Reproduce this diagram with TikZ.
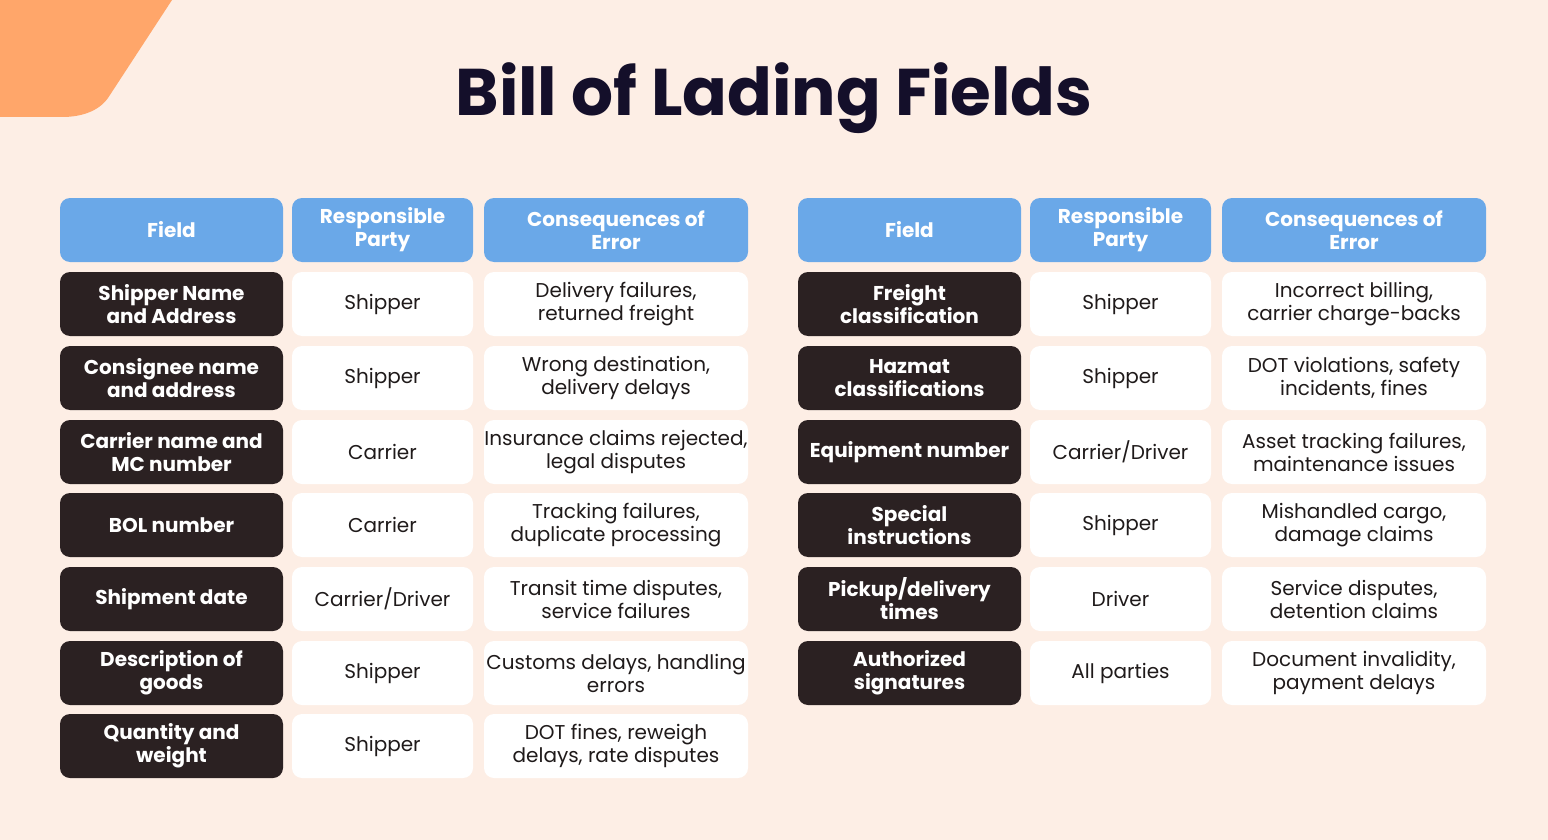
\documentclass[tikz,border=0pt]{standalone}
\usepackage{fontspec}
\setmainfont{Poppins}
\definecolor{bg}{HTML}{FDEEE5}
\definecolor{corner}{HTML}{FFA66A}
\definecolor{hdr}{HTML}{6AA8E8}
\definecolor{dark}{HTML}{2B2122}
\definecolor{txt}{HTML}{1F1A1A}
\definecolor{ttl}{HTML}{140F2A}
\begin{document}
\begin{tikzpicture}[x=0.5pt,y=-0.5pt,
  cell/.style={rounded corners=5pt,align=center,inner sep=0pt,font=\fontsize{10}{11.5}\selectfont},
  hcell/.style={cell,fill=hdr,text=white,font=\fontsize{10}{11.5}\selectfont\bfseries},
  fcell/.style={cell,fill=dark,text=white,font=\fontsize{10}{11.5}\selectfont\bfseries},
  wcell/.style={cell,fill=white,text=txt}]
\fill[bg] (0,0) rectangle (1548,840);
\fill[corner] (0,0) -- (172,0) -- (108,98) .. controls (98,112) and (80,117) .. (62,117) -- (0,117) -- cycle;
\node[text=ttl,font=\fontsize{33}{36}\selectfont\bfseries] (title) at (774,98) {Bill of Lading Fields};
% left header
\newcommand\mkrow[8]{%
  \path[fcell] (#1,#2) rectangle ++(223,64) node[pos=.5] (f#8) {#3};
  \path[wcell] (#1+232,#2) rectangle ++(181,64) node[pos=.5] (r#8) {#4};
  \path[wcell] (#1+424,#2) rectangle ++(264,64) node[pos=.5] (c#8) {#5};}
\foreach \x/\n in {60/L,798/R}{
  \path[hcell] (\x,198) rectangle ++(223,64) node[pos=.5] (hf\n) {Field};
  \path[hcell] (\x+232,198) rectangle ++(181,64) node[pos=.5] (hr\n) {Responsible\\Party};
  \path[hcell] (\x+424,198) rectangle ++(264,64) node[pos=.5] (hc\n) {Consequences of\\Error};
}
\mkrow{60}{272}{Shipper Name\\and Address}{Shipper}{Delivery failures,\\returned freight}{}{}{L1}
\mkrow{60}{346}{Consignee name\\and address}{Shipper}{Wrong destination,\\delivery delays}{}{}{L2}
\mkrow{60}{420}{Carrier name and\\MC number}{Carrier}{Insurance claims rejected,\\legal disputes}{}{}{L3}
\mkrow{60}{493}{BOL number}{Carrier}{Tracking failures,\\duplicate processing}{}{}{L4}
\mkrow{60}{567}{Shipment date}{Carrier/Driver}{Transit time disputes,\\service failures}{}{}{L5}
\mkrow{60}{641}{Description of\\goods}{Shipper}{Customs delays, handling\\errors}{}{}{L6}
\mkrow{60}{714}{Quantity and\\weight}{Shipper}{DOT fines, reweigh\\delays, rate disputes}{}{}{L7}
\mkrow{798}{272}{Freight\\classification}{Shipper}{Incorrect billing,\\carrier charge-backs}{}{}{R1}
\mkrow{798}{346}{Hazmat\\classifications}{Shipper}{DOT violations, safety\\incidents, fines}{}{}{R2}
\mkrow{798}{420}{Equipment number}{Carrier/Driver}{Asset tracking failures,\\maintenance issues}{}{}{R3}
\mkrow{798}{493}{Special\\instructions}{Shipper}{Mishandled cargo,\\damage claims}{}{}{R4}
\mkrow{798}{567}{Pickup/delivery\\times}{Driver}{Service disputes,\\detention claims}{}{}{R5}
\mkrow{798}{641}{Authorized\\signatures}{All parties}{Document invalidity,\\payment delays}{}{}{R6}
\end{tikzpicture}
\end{document}
